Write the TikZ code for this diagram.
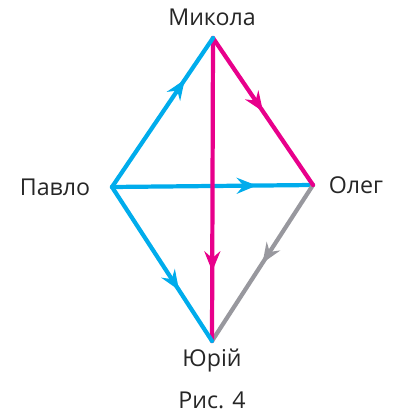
\documentclass[tikz,border=0pt]{standalone}
\usepackage{fontspec}
\setmainfont{Open Sans}
\usetikzlibrary{arrows.meta,decorations.markings}
\definecolor{kcyan}{RGB}{0,172,236}
\definecolor{kmag}{RGB}{232,0,139}
\definecolor{kgray}{RGB}{152,152,158}

\begin{document}
\begin{tikzpicture}[
x=0.025cm, y=-0.025cm,
vname/.style={font=\fontsize{16.5}{19}\selectfont, text=black!85, inner sep=0pt},
edge/.style={line width=3pt, line cap=round},
mid/.style={postaction={decorate}, decoration={markings,
  mark=at position #1 with {\arrow{Stealth[length=5mm,width=4mm,inset=1.7mm]}}}}
]
\useasboundingbox (0,0) rectangle (408,418);
\coordinate (vm) at (213,38);
\coordinate (vp) at (112,187);
\coordinate (vo) at (313,185);
\coordinate (vy) at (212,341);
\node[vname] (lm) at (212,17) {Микола};
\node[vname] (lp) at (55,187) {Павло};
\node[vname] (lo) at (356,185) {Олег};
\node[vname] (ly) at (212,361) {Юрій};
\node[vname] (cap) at (212,400) {Рис. 4};
\draw[edge, kcyan, mid=0.72] (vp) -- (vo);
\draw[edge, kgray, mid=0.5] (vo) -- (vy);
\draw[edge, kmag, mid=0.5] (vm) -- (vo);
\draw[edge, kmag, mid=0.77] (vm) -- (vy);
\draw[edge, kcyan, mid=0.67] (vp) -- (vy);
\draw[edge, kcyan, mid=0.72] (vp) -- (vm);
\end{tikzpicture}
\end{document}
